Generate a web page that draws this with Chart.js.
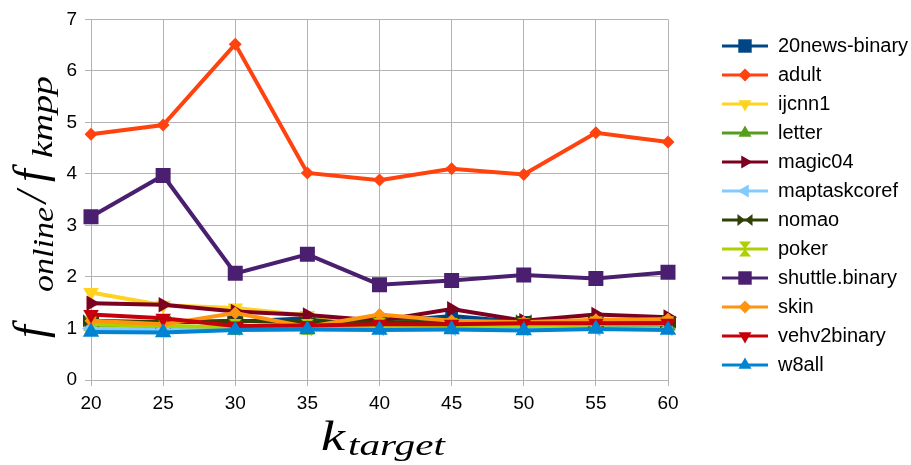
<!DOCTYPE html>
<html><head><meta charset="utf-8">
<script src="https://cdn.jsdelivr.net/npm/chart.js@4/dist/chart.umd.min.js"></script>
<style>html,body{margin:0;padding:0;background:#fff;}#wrap{width:911px;height:465px;position:relative;}</style>
</head><body><div id="wrap"><canvas id="c"></canvas></div>
<script>
// ---- data ----
const kTarget = ['20','25','30','35','40','45','50','55','60'];
const yTickValues = [0,1,2,3,4,5,6,7];
const seriesNames = ['20news-binary','adult','ijcnn1','letter','magic04','maptaskcoref','nomao','poker','shuttle.binary','skin','vehv2binary','w8all'];
const news20   = [1.10,1.12,1.13,1.20,1.12,1.24,1.12,1.15,1.12];
const adult    = [4.77,4.95,6.52,4.02,3.88,4.10,3.99,4.80,4.62];
const ijcnn1   = [1.70,1.45,1.40,1.25,1.12,1.10,1.08,1.15,1.12];
const letter   = [1.05,1.02,1.02,1.00,1.02,1.00,1.02,1.00,1.05];
const magic04  = [1.49,1.46,1.33,1.26,1.15,1.38,1.15,1.27,1.22];
const maptask  = [1.00,0.98,1.00,1.00,1.00,1.00,1.00,1.00,1.00];
const nomao    = [1.15,1.12,1.15,1.12,1.12,1.12,1.15,1.12,1.12];
const poker    = [1.08,1.05,1.03,1.03,1.05,1.05,1.05,1.08,1.08];
const shuttle  = [3.17,3.97,2.07,2.44,1.85,1.93,2.04,1.97,2.09];
const skin     = [1.15,1.08,1.30,1.03,1.27,1.15,1.12,1.17,1.18];
const vehv2    = [1.27,1.20,1.05,1.06,1.08,1.08,1.10,1.10,1.10];
const w8all    = [0.93,0.92,0.97,0.98,0.97,0.98,0.96,0.99,0.97];
const seriesValues = [news20,adult,ijcnn1,letter,magic04,maptask,nomao,poker,shuttle,skin,vehv2,w8all];

// ---- styles ----
const colors = ['#004586','#ff420e','#ffd320','#579d1c','#7e0021','#83caff','#314004','#aecf00','#4b1f6f','#ff950e','#c5000b','#0084d1'];
const markers = ['rect','rectRot','tri180','tri0','tri90','tri270','bowtie','hourglass','rect','rectRot','tri180','tri0'];
const radii   = [9,6.5,9,9,9,9,8,8,10.6,6.5,9,9.5];

function drawMarker(ctx, kind, x, y, r) {
  ctx.beginPath();
  if (kind === 'rect') {
    const s = r * Math.SQRT1_2;
    ctx.rect(x - s, y - s, 2*s, 2*s);
  } else if (kind === 'rectRot') {
    ctx.moveTo(x, y - r); ctx.lineTo(x + r, y); ctx.lineTo(x, y + r); ctx.lineTo(x - r, y); ctx.closePath();
  } else if (kind.startsWith('tri')) {
    let rad = parseInt(kind.slice(3)) * Math.PI / 180;
    for (let i = 0; i < 3; i++) {
      const px = x + Math.sin(rad) * r, py = y - Math.cos(rad) * r;
      if (i === 0) ctx.moveTo(px, py); else ctx.lineTo(px, py);
      rad += 2*Math.PI/3;
    }
    ctx.closePath();
  } else if (kind === 'bowtie') {
    ctx.moveTo(x - r, y - r*0.8); ctx.lineTo(x, y); ctx.lineTo(x - r, y + r*0.8); ctx.closePath();
    ctx.moveTo(x + r, y - r*0.8); ctx.lineTo(x, y); ctx.lineTo(x + r, y + r*0.8); ctx.closePath();
  } else if (kind === 'hourglass') {
    ctx.moveTo(x - r*0.8, y - r); ctx.lineTo(x + r*0.8, y - r); ctx.lineTo(x, y); ctx.closePath();
    ctx.moveTo(x - r*0.8, y + r); ctx.lineTo(x + r*0.8, y + r); ctx.lineTo(x, y); ctx.closePath();
  }
  ctx.fill();
}

function pointCanvas(kind, color, r) {
  const c = document.createElement('canvas');
  const s = Math.ceil(2*r + 2);
  c.width = s; c.height = s;
  const ctx = c.getContext('2d');
  ctx.fillStyle = color;
  drawMarker(ctx, kind, s/2, s/2, r);
  return c;
}

function legendCanvas(kind, color) {
  const c = document.createElement('canvas');
  c.width = 46; c.height = 16;
  const ctx = c.getContext('2d');
  ctx.strokeStyle = color; ctx.lineWidth = 3;
  ctx.beginPath(); ctx.moveTo(0, 8); ctx.lineTo(46, 8); ctx.stroke();
  ctx.fillStyle = color;
  const r = kind === 'rect' ? 9.5 : (kind === 'rectRot' ? 6.5 : 7.5);
  drawMarker(ctx, kind, 23, 8, r);
  return c;
}

function chartPointStyle(kind, color, r) {
  if (kind === 'rect') return {style: 'rect', rot: 0};
  if (kind === 'rectRot') return {style: 'rectRot', rot: 0};
  if (kind.startsWith('tri')) return {style: 'triangle', rot: parseInt(kind.slice(3))};
  return {style: pointCanvas(kind, color, r), rot: 0};
}

const datasets = seriesNames.map((name, i) => {
  const ps = chartPointStyle(markers[i], colors[i], radii[i]);
  return {
    label: name,
    data: seriesValues[i],
    borderColor: colors[i],
    backgroundColor: colors[i],
    borderWidth: 4,
    pointStyle: ps.style,
    pointRotation: ps.rot,
    pointRadius: radii[i],
    pointHoverRadius: radii[i],
    pointBorderWidth: 0,
    pointBackgroundColor: colors[i],
    pointBorderColor: colors[i],
    tension: 0,
    order: seriesNames.length - i
  };
});

const legendImgs = seriesNames.map((n, i) => legendCanvas(markers[i], colors[i]));

const layoutFix = {
  id: 'layoutFix',
  beforeLayout(chart) {
    const lg = chart.legend;
    if (lg && !lg._patched) {
      const orig = lg.fit;
      lg.fit = function() { orig.call(this); this.width = 243; };
      lg._patched = true;
    }
  },
  beforeDraw(chart) {
    const lg = chart.legend;
    if (lg) { lg.left = 713; lg.top = 27; }
  },
  afterDraw(chart) {
    const ctx = chart.ctx;
    ctx.save();
    ctx.fillStyle = '#000';
    ctx.textBaseline = 'alphabetic';
    ctx.textAlign = 'left';
    function piece(text, size, x, y, w) {
      ctx.font = 'italic ' + size + 'px "Liberation Serif", "DejaVu Serif", serif';
      const mw = ctx.measureText(text).width;
      ctx.save();
      ctx.translate(x, y);
      if (w) ctx.scale(w / mw, 1);
      ctx.fillText(text, 0, 0);
      ctx.restore();
    }
    // x-axis title: k_target
    piece('k', 42, 321, 450, 24);
    piece('target', 29, 348, 455, 97);
    // y-axis title: f_online / f_kmpp (rotated)
    ctx.save();
    ctx.rotate(-Math.PI / 2);
    piece('f', 46, -338, 45);
    piece('online', 29, -292, 53, 85);
    piece('/', 44, -203, 46);
    piece('f', 46, -182, 45);
    piece('kmpp', 29, -158, 52, 82);
    ctx.restore();
    ctx.restore();
  }
};

new Chart(document.getElementById('c'), {
  type: 'line',
  data: { labels: kTarget, datasets: datasets },
  options: {
    responsive: true,
    maintainAspectRatio: false,
    animation: false,
    devicePixelRatio: 1,
    layout: { padding: { top: 18, right: 0, bottom: 0, left: 0 } },
    plugins: {
      tooltip: { enabled: false },
      legend: {
        position: 'right',
        align: 'start',
        labels: {
          usePointStyle: true,
          pointStyleWidth: 46,
          padding: 9,
          color: '#000',
          font: { family: '"Liberation Sans", Arial, sans-serif', size: 20 },
          generateLabels(chart) {
            return seriesNames.map((n, i) => ({
              text: n,
              fillStyle: colors[i],
              strokeStyle: colors[i],
              lineWidth: 0,
              pointStyle: legendImgs[i],
              hidden: false,
              datasetIndex: i,
              fontColor: '#000'
            }));
          }
        }
      }
    },
    scales: {
      x: {
        type: 'category',
        offset: false,
        grid: { color: '#b3b3b3', tickLength: 6, drawTicks: true, tickColor: '#b3b3b3' },
        border: { color: '#b3b3b3' },
        ticks: { color: '#000', font: { family: '"Liberation Sans", Arial, sans-serif', size: 19 }, padding: 6, maxRotation: 0, autoSkip: false },
        afterFit(s) { s.height = 85; }
      },
      y: {
        min: 0, max: 7,
        afterBuildTicks(s) { s.ticks = yTickValues.map(v => ({ value: v })); },
        grid: { color: '#b3b3b3', tickLength: 6, drawTicks: true, tickColor: '#b3b3b3' },
        border: { color: '#b3b3b3' },
        ticks: { color: '#000', font: { family: '"Liberation Sans", Arial, sans-serif', size: 19 }, padding: 8 },
        afterFit(s) { s.width = 91; }
      }
    }
  },
  plugins: [layoutFix]
});
</script>
</body></html>
